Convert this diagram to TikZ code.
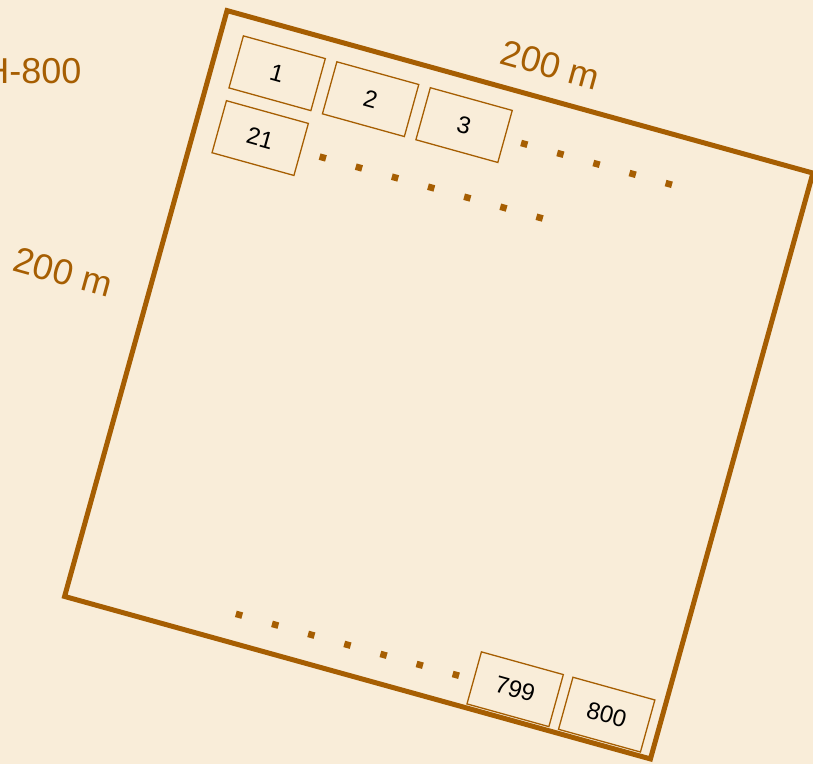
\documentclass[tikz,border=0pt]{standalone}
\usepackage{fontspec}
\setmainfont{Liberation Sans}
\usepackage{xcolor}
\definecolor{paper}{RGB}{249,237,217}
\definecolor{rust}{RGB}{166,94,2}

\begin{document}
\begin{tikzpicture}[x=1pt, y=1pt,
    plot/.style={draw=rust, line width=1.3pt, minimum width=85pt, minimum height=54pt, inner sep=0pt, font=\fontsize{24}{28}\selectfont},
    size/.style={text=rust, font=\fontsize{36}{42}\selectfont},
    dot/.style={fill=rust}]
\useasboundingbox (0,0) rectangle (813,-764);
\fill[paper] (0,0) rectangle (813,-764);
\clip (0,0) rectangle (813,-764);
\node[size, anchor=base east] (code) at (85,-83) {H-800};
\begin{scope}[shift={(438.75,-384.75)}, rotate=-15.5, transform shape]
% the square field
\draw[rust, line width=5pt] (-304,-304) rectangle (304,304);
\node[size] (top) at (22,338) {200 m};
\node[size] (side) at (-392,8) {200 m};
% plots
\node[plot] (p1) at (-239,257) {1};
\node[plot] (p2) at (-142,257) {2};
\node[plot] (p3) at (-45,257) {3};
\node[plot] (p21) at (-238,190) {21};
\node[plot] (p799) at (155,-273) {799};
\node[plot] (p800) at (250,-273) {800};
% dots
\foreach \i in {0,...,4} \fill[dot] (18+37.5*\i-3.3,255-3.3) rectangle ++(6.6,6.6);
\foreach \i in {0,...,6} \fill[dot] (-172.5+37.5*\i-3.3,188-3.3) rectangle ++(6.6,6.6);
\foreach \i in {0,...,6} \fill[dot] (-131+37.5*\i-3.3,-275-3.3) rectangle ++(6.6,6.6);
\end{scope}
\end{tikzpicture}
\end{document}
